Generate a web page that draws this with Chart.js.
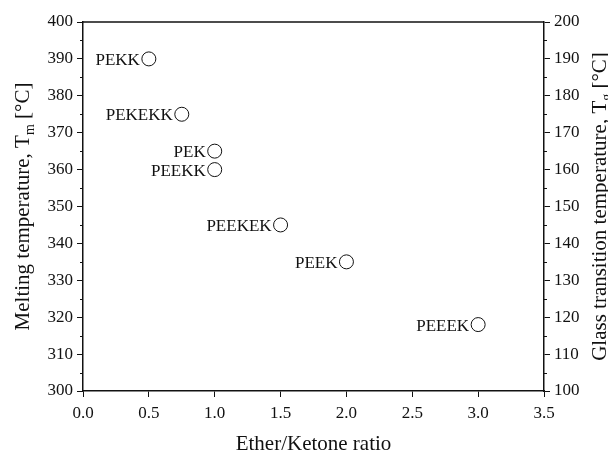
<!DOCTYPE html>
<html>
<head>
<meta charset="utf-8">
<script src="https://cdn.jsdelivr.net/npm/chart.js@4/dist/chart.umd.min.js"></script>
<style>
  html, body { margin: 0; padding: 0; background: #fff; }
  canvas { display: block; }
</style>
</head>
<body>
<canvas id="chart" width="608" height="454"></canvas>
<script>
// Poly(aryl ether ketone) family: ether/ketone ratio vs. melting temperature
const polymers = ['PEKK', 'PEKEKK', 'PEK', 'PEEKK', 'PEEKEK', 'PEEK', 'PEEEK'];
const etherKetoneRatio = [0.5, 0.75, 1.0, 1.0, 1.5, 2.0, 3.0];
const meltingTemp = [390, 375, 365, 360, 345, 335, 318];

// Axis ranges / tick steps
const xRange = [0, 3.5];
const xStep = 0.5;
const tmRange = [300, 400];
const tgRange = [100, 200];
const yStep = 10;

const SERIF = "'Liberation Serif', 'Times New Roman', serif";
const INK = '#111';

// Draws "pre" + subscript + "post", centred at (0,0) in the current transform
function drawSubText(ctx, pre, sub, post, size) {
  const main = size + 'px ' + SERIF;
  const small = Math.round(size * 0.65) + 'px ' + SERIF;
  ctx.font = main;
  const w1 = ctx.measureText(pre).width;
  const w3 = ctx.measureText(post).width;
  ctx.font = small;
  const w2 = ctx.measureText(sub).width;
  const total = w1 + w2 + w3;
  let x = -total / 2;
  ctx.textAlign = 'left';
  ctx.textBaseline = 'alphabetic';
  ctx.font = main;
  ctx.fillText(pre, x, 0);
  x += w1;
  ctx.font = small;
  ctx.fillText(sub, x, size * 0.25);
  x += w2;
  ctx.font = main;
  ctx.fillText(post, x, 0);
}

const decorations = {
  id: 'decorations',
  afterDraw(chart) {
    const ctx = chart.ctx;
    const area = chart.chartArea;
    const sy = chart.scales.y;
    const sy2 = chart.scales.y2;
    ctx.save();
    ctx.strokeStyle = INK;
    ctx.fillStyle = INK;

    // top frame line
    ctx.lineWidth = 1.5;
    ctx.beginPath();
    ctx.moveTo(area.left, area.top);
    ctx.lineTo(area.right, area.top);
    ctx.stroke();

    // minor ticks on both temperature axes
    ctx.lineWidth = 1;
    for (let v = tmRange[0] + yStep / 2; v < tmRange[1]; v += yStep) {
      const p = Math.round(sy.getPixelForValue(v)) + 0.5;
      ctx.beginPath();
      ctx.moveTo(area.left - 3, p);
      ctx.lineTo(area.left, p);
      ctx.stroke();
    }
    for (let v = tgRange[0] + yStep / 2; v < tgRange[1]; v += yStep) {
      const p = Math.round(sy2.getPixelForValue(v)) + 0.5;
      ctx.beginPath();
      ctx.moveTo(area.right, p);
      ctx.lineTo(area.right + 3, p);
      ctx.stroke();
    }

    // point labels, to the left of each marker
    const meta = chart.getDatasetMeta(0);
    ctx.font = '17px ' + SERIF;
    ctx.textAlign = 'right';
    ctx.textBaseline = 'alphabetic';
    meta.data.forEach((pt, i) => {
      ctx.fillText(polymers[i], pt.x - 9, pt.y + 6);
    });

    // axis titles
    const midY = (area.top + area.bottom) / 2;
    ctx.save();
    ctx.translate(29, midY);
    ctx.rotate(-Math.PI / 2);
    drawSubText(ctx, 'Melting temperature, T', 'm', ' [°C]', 21);
    ctx.restore();

    ctx.save();
    ctx.translate(606, midY);
    ctx.rotate(-Math.PI / 2);
    drawSubText(ctx, 'Glass transition temperature, T', 'g', ' [°C]', 21);
    ctx.restore();

    ctx.font = '21px ' + SERIF;
    ctx.textAlign = 'center';
    ctx.textBaseline = 'alphabetic';
    ctx.fillText('Ether/Ketone ratio', (area.left + area.right) / 2, 450);

    ctx.restore();
  }
};

const tickFont = { family: SERIF, size: 17 };

new Chart(document.getElementById('chart'), {
  type: 'scatter',
  data: {
    datasets: [{
      data: etherKetoneRatio.map((x, i) => ({ x: x, y: meltingTemp[i] })),
      pointStyle: 'circle',
      pointRadius: 7,
      pointHoverRadius: 7,
      pointBorderWidth: 1,
      pointBorderColor: INK,
      pointBackgroundColor: 'rgba(0,0,0,0)'
    }]
  },
  options: {
    responsive: false,
    animation: false,
    events: [],
    layout: { padding: { top: 22, left: 0, right: 0, bottom: 0 } },
    plugins: { legend: { display: false }, tooltip: { enabled: false } },
    scales: {
      x: {
        type: 'linear',
        min: xRange[0], max: xRange[1],
        afterFit(s) { s.height = 63; },
        ticks: { stepSize: xStep, color: INK, font: tickFont, padding: 6,
                 callback: v => v.toFixed(1), maxRotation: 0, autoSkip: false },
        grid: { drawOnChartArea: false, drawTicks: true, tickLength: 6, color: INK, lineWidth: 1 },
        border: { display: true, color: INK, width: 1.5 }
      },
      y: {
        position: 'left',
        min: tmRange[0], max: tmRange[1],
        afterFit(s) { s.width = 83; },
        ticks: { stepSize: yStep, color: INK, font: tickFont, padding: 4, autoSkip: false },
        grid: { drawOnChartArea: false, drawTicks: true, tickLength: 6, color: INK, lineWidth: 1 },
        border: { display: true, color: INK, width: 1.5 }
      },
      y2: {
        position: 'right',
        min: tgRange[0], max: tgRange[1],
        afterFit(s) { s.width = 64; },
        ticks: { stepSize: yStep, color: INK, font: tickFont, padding: 4, autoSkip: false },
        grid: { drawOnChartArea: false, drawTicks: true, tickLength: 6, color: INK, lineWidth: 1 },
        border: { display: true, color: INK, width: 1.5 }
      }
    }
  },
  plugins: [decorations]
});
</script>
</body>
</html>
